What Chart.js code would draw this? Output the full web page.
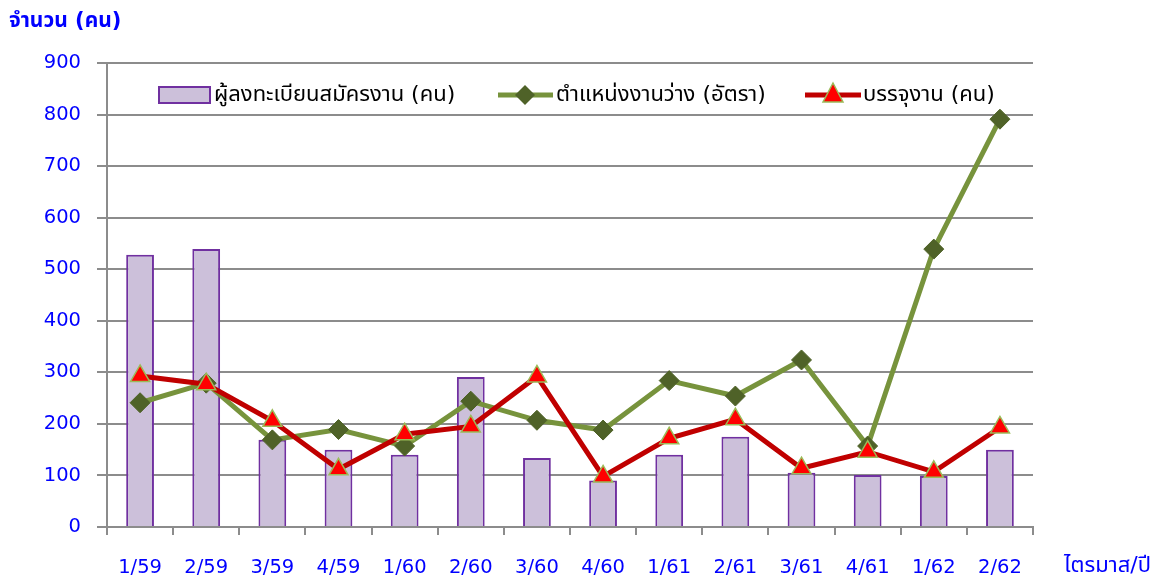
<!DOCTYPE html>
<html><head><meta charset="utf-8">
<script src="https://cdn.jsdelivr.net/npm/chart.js@4/dist/chart.umd.min.js"></script>
<style>html,body{margin:0;padding:0;background:#fff;}#wrap{width:1168px;height:581px;position:relative;}</style>
</head><body><div id="wrap"><canvas id="c" width="1168" height="581"></canvas></div>
<script>
const categories = ['1/59','2/59','3/59','4/59','1/60','2/60','3/60','4/60','1/61','2/61','3/61','4/61','1/62','2/62'];
const applicants = [528,539,169,150,140,291,134,90,140,175,105,101,99,150];
const vacancies  = [241,279,169,189,157,244,207,188,284,254,324,157,539,791];
const placements = [293,277,206,112,180,195,292,98,172,209,114,146,107,193];
const seriesNames = ['ผู้ลงทะเบียนสมัครงาน (คน)','ตำแหน่งงานว่าง (อัตรา)','บรรจุงาน (คน)'];
const yTitle = 'จำนวน (คน)';
const xTitle = 'ไตรมาส/ปี';
const yMin = 0, yMax = 900, yStep = 100;

const FONT = '"DejaVu Sans", Tahoma, "Noto Sans Thai", sans-serif';
const BLUE = '#0000FF';
const GRID = '#8C8C8C';

const overlay = {
  id: 'overlay',
  afterDraw(chart) {
    const ctx = chart.ctx;
    ctx.save();
    ctx.fillStyle = BLUE;
    ctx.font = 'bold 21px ' + FONT;
    ctx.textBaseline = 'middle';
    ctx.textAlign = 'left';
    ctx.fillText(yTitle, 9, 22);
    ctx.font = '22px ' + FONT;
    ctx.fillText(xTitle, 1064, 566);
    // legend
    ctx.font = '22px ' + FONT;
    const ly = 95;
    // bar item
    ctx.fillStyle = '#CCC0DA';
    ctx.fillRect(159, 87, 51, 16);
    ctx.strokeStyle = '#7030A0';
    ctx.lineWidth = 2;
    ctx.strokeRect(159, 87, 51, 16);
    ctx.fillStyle = '#000';
    ctx.fillText(seriesNames[0], 214, ly);
    // green item
    ctx.strokeStyle = '#77933C';
    ctx.lineWidth = 5;
    ctx.beginPath(); ctx.moveTo(498, ly); ctx.lineTo(553, ly); ctx.stroke();
    ctx.fillStyle = '#4F6228';
    ctx.beginPath();
    ctx.moveTo(525, ly-10); ctx.lineTo(535, ly); ctx.lineTo(525, ly+10); ctx.lineTo(515, ly);
    ctx.closePath(); ctx.fill();
    ctx.fillStyle = '#000';
    ctx.fillText(seriesNames[1], 556, ly);
    // red item
    ctx.strokeStyle = '#C00000';
    ctx.lineWidth = 5;
    ctx.beginPath(); ctx.moveTo(805, ly); ctx.lineTo(861, ly); ctx.stroke();
    ctx.fillStyle = '#FF0000';
    ctx.strokeStyle = '#9BBB59';
    ctx.lineWidth = 1.5;
    ctx.beginPath();
    ctx.moveTo(833, ly-12); ctx.lineTo(843, ly+7); ctx.lineTo(823, ly+7);
    ctx.closePath(); ctx.fill(); ctx.stroke();
    ctx.fillStyle = '#000';
    ctx.fillText(seriesNames[2], 863, ly);
    ctx.restore();
  }
};

new Chart(document.getElementById('c'), {
  type: 'bar',
  data: {
    labels: categories,
    datasets: [
      {
        type: 'line', label: seriesNames[2], data: placements, order: 1,
        borderColor: '#C00000', borderWidth: 5, pointStyle: 'triangle',
        pointRadius: 11, pointHoverRadius: 11, pointBackgroundColor: '#FF0000',
        pointBorderColor: '#9BBB59', pointBorderWidth: 1.5, tension: 0, fill: false
      },
      {
        type: 'line', label: seriesNames[1], data: vacancies, order: 2,
        borderColor: '#77933C', borderWidth: 5, pointStyle: 'rectRot',
        pointRadius: 10, pointHoverRadius: 10, pointBackgroundColor: '#4F6228',
        pointBorderColor: '#4F6228', pointBorderWidth: 1, tension: 0, fill: false
      },
      {
        type: 'bar', label: seriesNames[0], data: applicants, order: 3,
        backgroundColor: '#CCC0DA', borderColor: '#7030A0', borderWidth: 2,
        barPercentage: 0.42, categoryPercentage: 1.0
      }
    ]
  },
  options: {
    responsive: false,
    animation: false,
    devicePixelRatio: 1,
    layout: { padding: { left: 0, top: 63, right: 135, bottom: 0 } },
    plugins: { legend: { display: false }, tooltip: { enabled: false }, title: { display: false } },
    scales: {
      x: {
        offset: true,
        grid: { display: true, drawOnChartArea: false, drawTicks: true, tickLength: 8, color: GRID, lineWidth: 2, offset: true },
        border: { display: true, color: GRID, width: 2 },
        ticks: { color: BLUE, font: { family: FONT, size: 19.5 }, padding: 21, maxRotation: 0, autoSkip: false },
        afterFit(s) { s.height = 54; }
      },
      y: {
        min: yMin, max: yMax,
        grid: { display: true, drawOnChartArea: true, drawTicks: true, tickLength: 10, color: GRID, lineWidth: 2 },
        border: { display: true, color: GRID, width: 2 },
        ticks: { stepSize: yStep, color: BLUE, font: { family: FONT, size: 19.5 }, padding: 16 },
        afterFit(s) { s.width = 107; }
      }
    }
  },
  plugins: [overlay]
});
</script>
</body></html>
